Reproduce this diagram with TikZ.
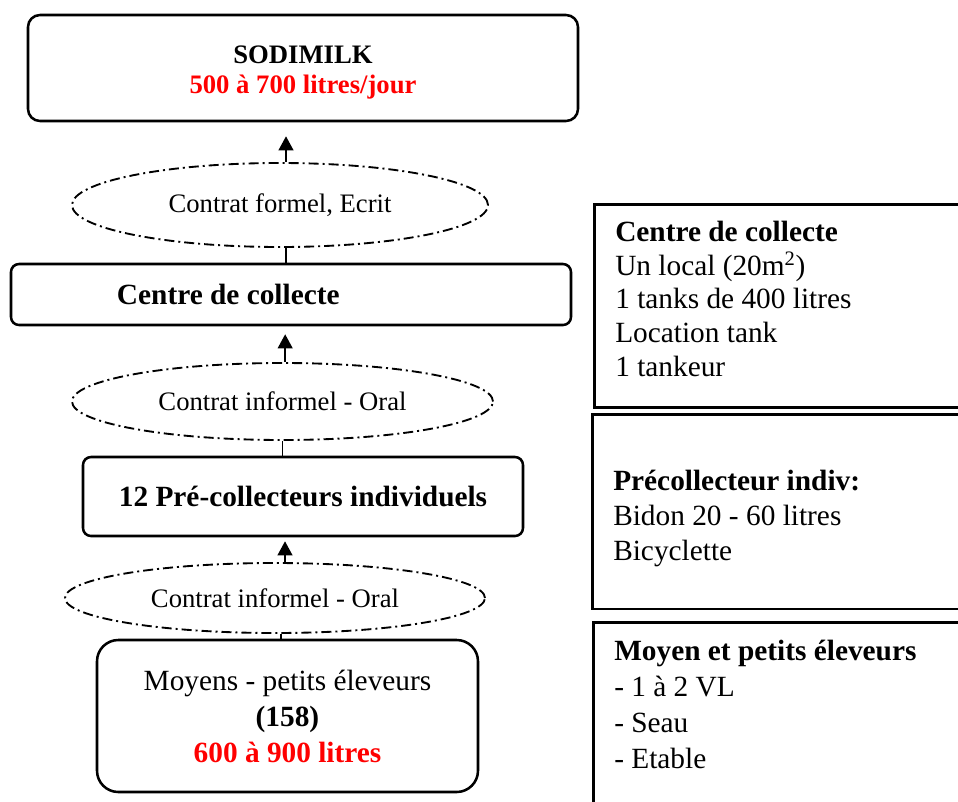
\documentclass[tikz,border=0pt]{standalone}
\usepackage{fontspec}
\setmainfont{Liberation Serif}
\usetikzlibrary{shapes.geometric,arrows.meta}

\tikzset{
  box/.style={draw, line width=1.9pt, rounded corners=6pt, inner sep=0pt, align=center, font=\fontsize{22}{24}\selectfont},
  contrat/.style={draw, ellipse, line width=1.4pt, dash pattern=on 7.5pt off 3pt on 1.5pt off 3pt, inner sep=0pt, font=\fontsize{20}{24}\selectfont},
  info/.style={draw, line width=1.9pt, anchor=north west, inner xsep=15.75pt, inner ysep=12.5pt, text height=15.5pt, align=flush left, font=\fontsize{22}{25.2}\selectfont},
  fleche/.style={line width=1.4pt, -{Triangle[width=11pt,length=10.5pt]}},
  lien/.style={line width=1.4pt}
}

\begin{document}
\begin{tikzpicture}[x=0.75pt,y=0.75pt,yscale=-1,xscale=1]
\useasboundingbox (0,0) rectangle (958,801);
\clip (0,0) rectangle (958,801);
% Main chain
\node (sodimilk) [box, rounded corners=9pt, text width=412.5pt, align=flush center, text height=12pt, text depth=18.3pt, font=\fontsize{20}{22.5}\selectfont, minimum height=79.5pt] at (303,68) {\textbf{SODIMILK}\\ \textcolor{red}{\textbf{500 à 700 litres/jour}}};
\node (e1) [contrat, minimum width=312pt, minimum height=63pt] at (280,205) {Contrat formel, Ecrit};
\node (collecte) [box, text width=420pt, minimum height=45.75pt, align=flush left] at (291,294.5) {\hspace*{79.5pt}\textbf{Centre de collecte}};
\node (e2) [contrat, minimum width=315.75pt, minimum height=57.75pt] at (282.5,401.5) {Contrat informel - Oral};
\node (precol) [box, minimum width=330pt, minimum height=59.25pt] at (303,496.5) {\textbf{12 Pré-collecteurs individuels}};
\node (e3) [contrat, minimum width=315pt, minimum height=52.5pt] at (275,598) {Contrat informel - Oral};
\node (eleveurs) [box, rounded corners=16pt, font=\fontsize{22}{27}\selectfont, minimum width=285.75pt, minimum height=114pt] at (287.5,716) {Moyens - petits éleveurs\\ \textbf{(158)}\\ \textcolor{red}{\textbf{600 à 900 litres}}};
% Side notes
\node (info1) [info, text width=251.25pt, text depth=111.75pt] at (593,203) {\textbf{Centre de collecte}\\ Un local (20m\textsuperscript{2})\\ 1 tanks de 400 litres\\ Location tank\\ 1 tankeur};
\node (info2) [info, text width=252.75pt, inner ysep=42pt, text depth=46.5pt, font=\fontsize{22}{26.25}\selectfont] at (591,413) {\textbf{Précollecteur indiv:}\\ Bidon 20 - 60 litres\\ Bicyclette};
\node (info3) [info, text width=252pt, inner ysep=13.5pt, text depth=200pt, font=\fontsize{22}{27}\selectfont] at (592,621) {\textbf{Moyen et petits éleveurs}\\ - 1 à 2 VL\\ - Seau\\ - Etable};
% Links
\draw[fleche, shorten >=10.5pt] ([xshift=4.5pt]e1.north) -- ([xshift=4.5pt]e1.north |- sodimilk.south);
\draw[lien] ([xshift=4.5pt]e1.south) -- ([xshift=4.5pt]e1.south |- collecte.north);
\draw[fleche, shorten >=6pt] ([xshift=2pt]e2.north) -- ([xshift=2pt]e2.north |- collecte.south);
\draw[lien] (e2.south) -- (e2.south |- precol.north);
\draw[fleche, shorten >=3pt] ([xshift=7.5pt]e3.north) -- ([xshift=7.5pt]e3.north |- precol.south);
\draw[lien] ([xshift=4.5pt]e3.south) -- ([xshift=4.5pt]e3.south |- eleveurs.north);
\end{tikzpicture}
\end{document}
